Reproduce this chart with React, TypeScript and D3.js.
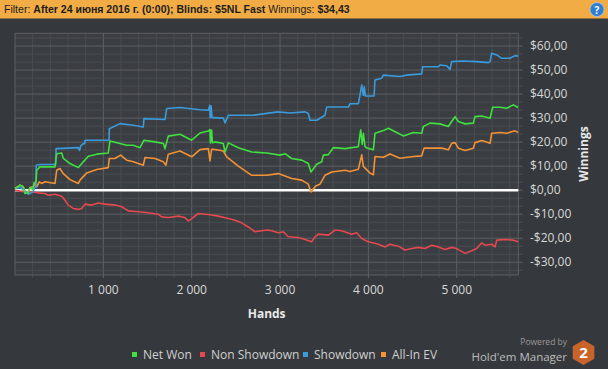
import React, { useEffect, useRef, useState } from "react";
import * as d3 from "d3";

const W = 608;
const H = 369;

const headerParts = [
  { t: "Filter: ", b: false },
  { t: "After 24 июня 2016 г. (0:00); Blinds: $5NL Fast", b: true },
  { t: "  Winnings: ", b: false },
  { t: "$34,43", b: true },
];

const xTickValues = [1000, 2000, 3000, 4000, 5000];
const yTickValues = [60, 50, 40, 30, 20, 10, 0, -10, -20, -30];

const seriesNames = ["Net Won", "Non Showdown", "Showdown", "All-In EV"];
const seriesColors = ["#3fe03f", "#e5484d", "#3a9bdc", "#f39235"];

const netWonHands = [0, 57, 94, 113, 151, 170, 200, 215, 238, 246, 283, 453, 472, 529, 547, 623, 717, 773, 830, 925, 1056, 1075, 1189, 1264, 1339, 1415, 1460, 1585, 1679, 1698, 1735, 1868, 2000, 2094, 2188, 2207, 2212, 2225, 2235, 2264, 2358, 2377, 2415, 2528, 2679, 2849, 3000, 3056, 3132, 3245, 3320, 3350, 3415, 3472, 3490, 3547, 3603, 3736, 3886, 3913, 3930, 3943, 3962, 3988, 4056, 4075, 4169, 4226, 4320, 4396, 4509, 4604, 4622, 4698, 4811, 4905, 4943, 4981, 5019, 5094, 5188, 5207, 5283, 5377, 5407, 5490, 5566, 5641, 5694];
const netWonValues = [0.7, 2.1, 1.4, -1.4, -1.1, 1.1, 0.3, 3.0, 3.5, 8.3, 9.7, 9.7, 15.2, 15.5, 13.2, 11.1, 9.4, 11.8, 14.1, 15.0, 15.5, 20.5, 19.4, 18.7, 18.7, 17.7, 20.8, 20.1, 19.4, 17.3, 22.5, 23.3, 20.8, 23.8, 24.6, 25.2, 19.7, 25.0, 19.7, 20.1, 19.4, 15.9, 19.7, 17.7, 15.9, 15.5, 14.6, 15.2, 13.2, 12.5, 11.1, 7.6, 10.8, 11.8, 14.6, 14.8, 17.7, 17.3, 18.1, 25.1, 19.0, 23.7, 18.1, 17.5, 16.8, 23.7, 24.8, 25.8, 24.0, 22.6, 24.0, 23.7, 26.5, 27.9, 27.6, 26.5, 28.6, 30.6, 28.6, 27.6, 27.9, 30.6, 30.9, 29.9, 34.5, 34.5, 34.1, 35.5, 34.4];

const nonShowdownHands = [0, 113, 189, 264, 340, 377, 453, 529, 566, 604, 660, 717, 755, 792, 868, 943, 1019, 1132, 1208, 1283, 1396, 1509, 1622, 1660, 1735, 1849, 1924, 1962, 2000, 2075, 2188, 2301, 2415, 2490, 2566, 2641, 2717, 2792, 2867, 2905, 2981, 3037, 3094, 3207, 3283, 3358, 3396, 3434, 3547, 3622, 3698, 3811, 3868, 3925, 4000, 4113, 4188, 4245, 4339, 4415, 4490, 4566, 4641, 4717, 4792, 4868, 4943, 5000, 5094, 5170, 5226, 5283, 5320, 5396, 5434, 5453, 5547, 5641, 5694];
const nonShowdownValues = [0, -0.7, -0.7, -1.1, -1.4, -2.1, -1.7, -2.5, -4.2, -6.2, -7.6, -8.0, -7.6, -5.8, -6.2, -5.3, -5.8, -6.2, -6.9, -8.6, -9.0, -9.4, -10.0, -11.1, -11.4, -10.8, -11.4, -12.8, -11.8, -9.7, -10.1, -10.8, -11.8, -12.5, -13.6, -15.3, -17.3, -16.9, -16.6, -16.9, -17.7, -17.3, -19.4, -19.7, -20.5, -21.5, -19.4, -18.3, -18.7, -16.6, -16.9, -18.3, -17.7, -20.1, -21.5, -22.5, -23.6, -22.5, -23.3, -24.9, -24.3, -23.8, -24.3, -22.9, -23.6, -24.7, -23.8, -24.3, -26.3, -25.2, -24.3, -21.9, -22.9, -22.5, -23.6, -20.8, -20.5, -20.8, -21.5];

const showdownHands = [0, 60, 120, 150, 200, 230, 238, 240, 285, 460, 465, 717, 730, 745, 773, 790, 792, 1065, 1067, 1189, 1339, 1452, 1460, 1698, 1717, 1868, 2094, 2188, 2205, 2210, 2220, 2230, 2245, 2358, 2377, 2415, 2694, 2977, 3113, 3283, 3320, 3339, 3415, 3509, 3528, 3773, 3792, 3886, 3905, 3925, 3943, 3955, 3965, 3981, 4064, 4075, 4151, 4169, 4358, 4434, 4604, 4615, 4792, 4811, 4887, 4924, 4943, 5075, 5226, 5358, 5377, 5396, 5453, 5509, 5603, 5660, 5694];
const showdownValues = [0.7, 1.2, -0.5, -1.7, -0.8, 1.5, 1.4, 10.4, 10.7, 10.7, 17.3, 17.7, 16.5, 18.5, 19.4, 19.4, 20.8, 20.8, 25.6, 27.7, 27.0, 26.3, 29.8, 29.4, 34.0, 34.4, 33.5, 33.3, 35.3, 30.2, 35.0, 30.2, 30.2, 30.0, 28.0, 31.2, 31.2, 32.6, 32.1, 32.6, 31.9, 29.1, 29.1, 31.2, 34.6, 34.6, 36.0, 36.0, 39.6, 43.8, 39.5, 43.0, 39.2, 39.2, 39.2, 45.9, 46.6, 47.9, 47.3, 47.9, 48.4, 51.4, 51.4, 52.1, 51.8, 50.3, 53.5, 53.8, 53.5, 53.1, 53.5, 57.0, 56.3, 54.9, 54.9, 56.0, 55.8];

const allInEvHands = [0, 57, 94, 113, 151, 170, 207, 226, 246, 275, 302, 340, 453, 472, 509, 547, 623, 717, 736, 812, 925, 1056, 1067, 1130, 1196, 1264, 1339, 1452, 1472, 1585, 1679, 1709, 1735, 1868, 2000, 2094, 2188, 2207, 2225, 2245, 2320, 2358, 2396, 2528, 2679, 2849, 2981, 3132, 3245, 3320, 3350, 3403, 3452, 3509, 3585, 3736, 3792, 3886, 3925, 3943, 4019, 4056, 4075, 4169, 4245, 4358, 4509, 4604, 4630, 4830, 4905, 4943, 4981, 5019, 5094, 5188, 5207, 5283, 5377, 5396, 5490, 5566, 5660, 5694];
const allInEvValues = [0.7, 2.1, 1.4, -1.0, -0.5, 1.1, 1.4, 2.8, 1.4, 3.5, 2.8, 3.5, 2.8, 8.3, 9.0, 6.9, 4.4, 2.8, 4.2, 7.2, 8.6, 9.4, 13.2, 13.2, 14.6, 12.5, 11.8, 10.4, 13.6, 13.2, 11.8, 10.4, 15.0, 16.3, 13.9, 16.9, 17.3, 12.2, 17.0, 17.0, 16.6, 16.3, 13.9, 10.0, 6.2, 6.2, 6.9, 4.9, 4.2, 2.5, -0.7, 1.7, 2.5, 6.2, 7.6, 8.3, 7.8, 8.7, 14.7, 9.9, 7.1, 6.4, 14.0, 13.7, 15.1, 13.3, 14.0, 14.3, 17.5, 17.5, 16.8, 19.5, 19.8, 17.5, 16.5, 17.5, 19.8, 20.7, 19.5, 23.7, 24.0, 23.7, 24.7, 24.0];

const PL = 15, PR = 518.3, PT = 33.3, PB = 275;
const FONT = "'Open Sans', 'Noto Sans', sans-serif";

export default function App() {
  const headerRef = useRef<SVGTextElement | null>(null);
  const [hScale, setHScale] = useState(1);
  useEffect(() => {
    const el = headerRef.current;
    if (el) {
      const w = el.getComputedTextLength();
      if (w > 0) setHScale(Math.min(1, 346 / w));
    }
  }, []);

  const x = d3.scaleLinear().domain([0, 5697]).range([PL, PR]);
  const y = d3.scaleLinear().domain([-35.3, 65.3]).range([PB, PT]);

  const series = [
    { hands: nonShowdownHands, values: nonShowdownValues, color: seriesColors[1] },
    { hands: allInEvHands, values: allInEvValues, color: seriesColors[3] },
    { hands: showdownHands, values: showdownValues, color: seriesColors[2] },
    { hands: netWonHands, values: netWonValues, color: seriesColors[0] },
  ];
  const line = d3.line<[number, number]>().x((d) => x(d[0])).y((d) => y(d[1]));

  const vGrid = d3.range(200, 5697, 200);
  const hGrid: number[] = [];
  for (let k = -10; k <= 19; k++) {
    const v = (k * 10) / 3;
    if (v > -35.3 && v < 65.3) hGrid.push(v);
  }
  const isMajorY = (v: number) => Math.abs(v / 10 - Math.round(v / 10)) < 1e-6;

  const hexPts = d3.range(6).map((i) => {
    const a = (Math.PI / 3) * i - Math.PI / 2;
    return [583.5 + 12.5 * Math.cos(a), 352.5 + 12.5 * Math.sin(a)].join(",");
  }).join(" ");

  const legendX = [132, 200, 303, 381];

  return (
    <svg width={W} height={H} style={{ position: "absolute", left: 0, top: 0, display: "block" }} fontFamily={FONT}>
      <rect x={0} y={0} width={W} height={H} fill="#35383c" />
      <rect x={0} y={0} width={W} height={18.5} fill="#f2ac45" />
      <g transform={`translate(4,13) scale(${hScale},1)`}>
        <text ref={headerRef} x={0} y={0} fontSize={11} fill="#1c1c1c" fontFamily="'Liberation Sans', 'DejaVu Sans', sans-serif">
          {headerParts.map((p, i) => (
            <tspan key={i} fontWeight={p.b ? "bold" : "normal"}>{p.t}</tspan>
          ))}
        </text>
      </g>
      <circle cx={597} cy={9.5} r={7} fill="#2f7fcf" stroke="#a8c8ec" strokeWidth={0.8} />
      <text x={597} y={13.5} textAnchor="middle" fontSize={10} fontWeight="bold" fill="#fff">?</text>

      <rect x={PL} y={PT} width={PR - PL} height={PB - PT} fill="#3a3d41" />
      {vGrid.map((h) => (
        <line key={"v" + h} x1={x(h)} x2={x(h)} y1={PT} y2={PB + 3} stroke={h % 1000 === 0 ? "#5d6064" : "#4a4d51"} strokeWidth={1} />
      ))}
      {hGrid.map((v) => (
        <line key={"h" + v} x1={PL} x2={PR + 4.5} y1={y(v)} y2={y(v)} stroke={isMajorY(v) ? "#5d6064" : "#4a4d51"} strokeWidth={1} />
      ))}
      <rect x={PL} y={PT} width={PR - PL} height={PB - PT} fill="none" stroke="#5d6064" strokeWidth={1} />

      <line x1={PL} x2={PR} y1={y(0)} y2={y(0)} stroke="#ffffff" strokeWidth={2.5} />

      {series.map((s, i) => (
        <path
          key={i}
          d={line(s.hands.map((h, j) => [h, s.values[j]] as [number, number])) || ""}
          fill="none"
          stroke={s.color}
          strokeWidth={1.6}
          strokeLinejoin="round"
        />
      ))}

      {yTickValues.map((v) => (
        <text key={"yl" + v} x={530} y={y(v)} dy="0.35em" fontSize={12} fill="#d8d8d8">
          {(v < 0 ? "-$" : "$") + Math.abs(v) + ",00"}
        </text>
      ))}
      {xTickValues.map((h) => (
        <text key={"xl" + h} x={x(h)} y={294} textAnchor="middle" fontSize={12} fill="#d8d8d8">
          {d3.format(",")(h).replace(",", " ")}
        </text>
      ))}
      <text x={(PL + PR) / 2} y={318} textAnchor="middle" fontSize={12} fontWeight="bold" fill="#e8e8e8">Hands</text>
      <text transform={`translate(588,154) rotate(-90)`} textAnchor="middle" fontSize={12} fontWeight="bold" fill="#e8e8e8">Winnings</text>

      {seriesNames.map((n, i) => (
        <g key={n}>
          <rect x={legendX[i]} y={352} width={5} height={5} fill={seriesColors[i]} />
          <text x={legendX[i] + 11} y={359} fontSize={12} fill="#d0d0d0">{n}</text>
        </g>
      ))}

      <text x={567} y={345} textAnchor="end" fontSize={8.5} fill="#9a9a9a">Powered by</text>
      <text x={567} y={361} textAnchor="end" fontSize={11.5} fill="#bdbdbd">Hold'em Manager</text>
      <polygon points={hexPts} fill="#c8632b" />
      <text x={583.5} y={358} textAnchor="middle" fontSize={15} fontWeight="bold" fill="#ffffff">2</text>
    </svg>
  );
}
